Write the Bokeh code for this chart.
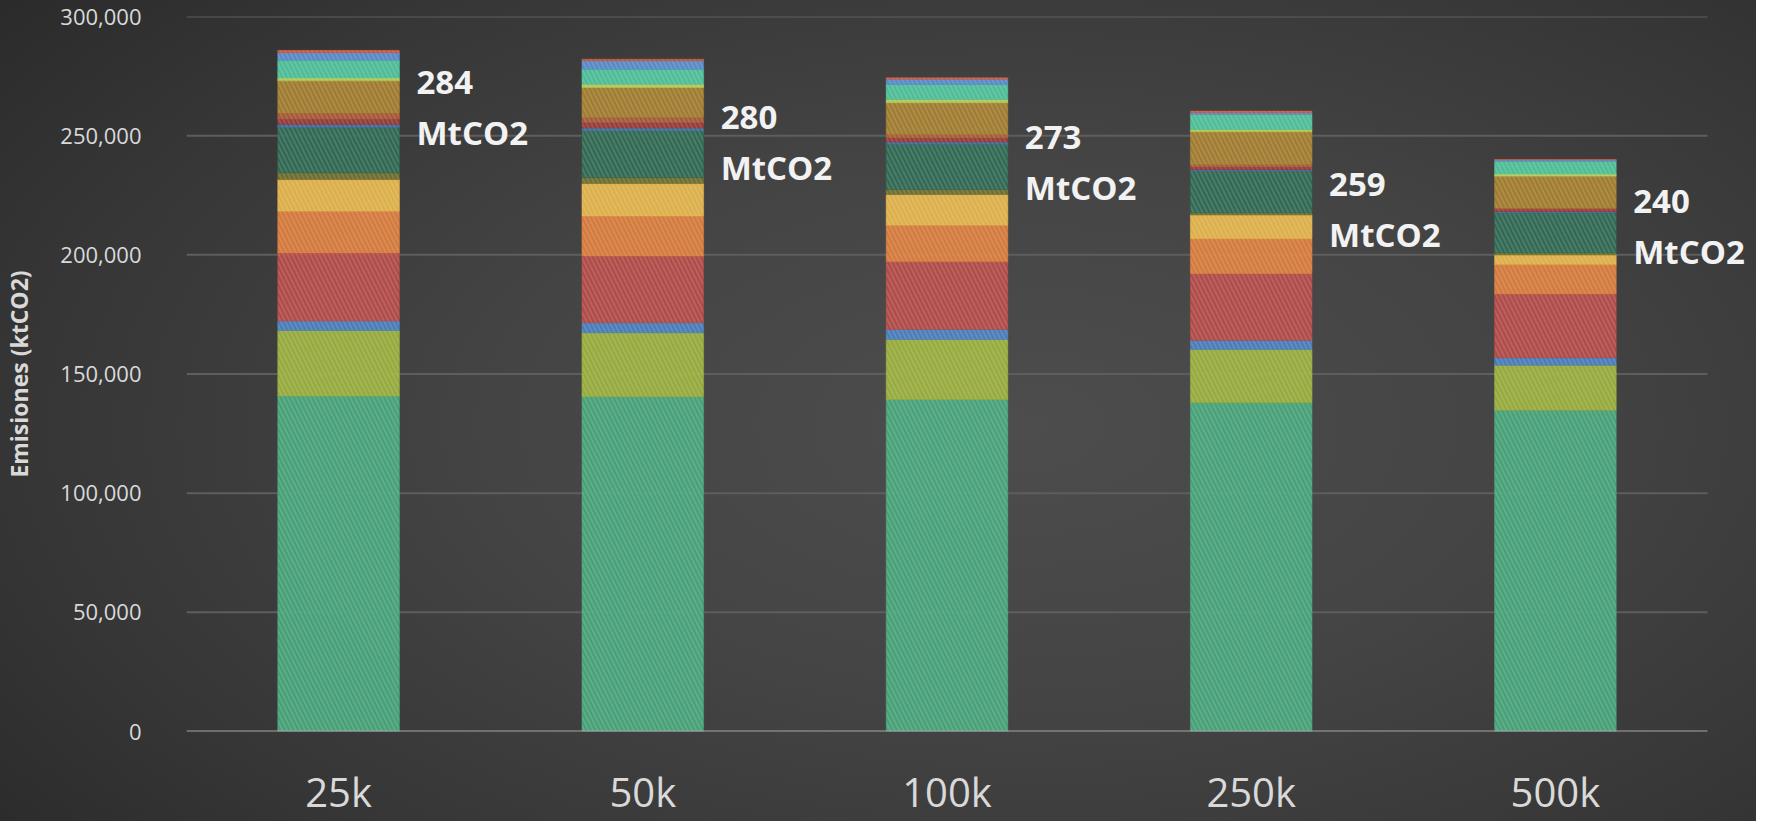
from bokeh.plotting import figure
from bokeh.models import (ColumnDataSource, NumeralTickFormatter,
                          FixedTicker, InlineStyleSheet)
from bokeh.core.properties import value
from bokeh.embed import file_html
from bokeh.resources import INLINE

# ---------------- data (ktCO2) ----------------
categories = ["25k", "50k", "100k", "250k", "500k"]

# stacked segments, bottom to top
seg_green_base   = [140800, 140500, 139300, 137900, 134800]
seg_olive        = [27500, 26800, 25200, 22400, 18900]
seg_blue_low     = [3900, 4200, 4200, 3800, 3100]
seg_red          = [28600, 28000, 28400, 28000, 26800]
seg_orange       = [17500, 16800, 15300, 14700, 12300]
seg_yellow       = [13300, 13600, 12900, 9900, 4000]
seg_dark_olive   = [2800, 2500, 2100, 900, 900]
seg_dark_green   = [18900, 19600, 18900, 17500, 16800]
seg_steel_blue   = [1400, 1200, 1000, 600, 500]
seg_dark_red     = [2300, 2200, 1700, 1200, 1000]
seg_rust         = [2500, 2200, 1500, 1000, 600]
seg_brown        = [13500, 12600, 13300, 13700, 13300]
seg_lime         = [1200, 1400, 1400, 1000, 900]
seg_mint         = [7400, 6300, 6300, 6300, 5400]
seg_blue_top     = [3200, 3500, 2200, 700, 500]
seg_red_top      = [1000, 700, 600, 700, 200]

segment_names = ["seg_green_base", "seg_olive", "seg_blue_low", "seg_red", "seg_orange",
                 "seg_yellow", "seg_dark_olive", "seg_dark_green", "seg_steel_blue",
                 "seg_dark_red", "seg_rust", "seg_brown", "seg_lime", "seg_mint",
                 "seg_blue_top", "seg_red_top"]
segment_values = [seg_green_base, seg_olive, seg_blue_low, seg_red, seg_orange,
                  seg_yellow, seg_dark_olive, seg_dark_green, seg_steel_blue,
                  seg_dark_red, seg_rust, seg_brown, seg_lime, seg_mint,
                  seg_blue_top, seg_red_top]

total_labels = ["284", "280", "273", "259", "240"]
label_anchor = [251400, 236700, 228300, 208600, 201500]  # baseline of "MtCO2" line

y_ticks = [0, 50000, 100000, 150000, 200000, 250000, 300000]

# ---------------- styles / layout ----------------
colors = ["#46a87c", "#9cb23c", "#4a80c2", "#b84b48", "#e07e3c",
          "#e9b84b", "#72702c", "#2f6b55", "#3f6f9c", "#9a3b3b",
          "#ad5a37", "#a8802e", "#b8d45a", "#4fc79d", "#5a8fd2", "#d65c40"]

BAR_W = 0.4
n_cat = len(categories)
grid_frame_px = 1521                 # width of the gridded area
unit_px = grid_frame_px / n_cat
frame_w = 1566
x_end = frame_w / unit_px

xpos = [i + 0.5 for i in range(n_cat)]

data = {"x": xpos}
for n, v in zip(segment_names, segment_values):
    data[n] = v
source = ColumnDataSource(data)

lab_src = ColumnDataSource(dict(x=[v + BAR_W / 2 for v in xpos], y=label_anchor,
                                num=total_labels,
                                unit=["MtCO2"] * n_cat))

p = figure(x_range=(0, x_end), y_range=(0, 300000),
           frame_width=frame_w, frame_height=715,
           min_border_left=181, min_border_right=4,
           min_border_top=16, min_border_bottom=75,
           output_backend="svg", toolbar_location=None)

p.stylesheets = [InlineStyleSheet(css=":host { background: radial-gradient(ellipse 75% 85% at 58% 52%, #4d4d4d 0%, #444444 40%, #363636 75%, #2a2a2a 100%); }")]
p.background_fill_alpha = 0
p.border_fill_alpha = 0
p.outline_line_color = None

# horizontal grid lines limited to the category area, and the base line
grid_y = [t for t in y_ticks if t > 0]
p.segment(x0=[0] * len(grid_y), x1=[n_cat] * len(grid_y), y0=grid_y, y1=grid_y,
          line_color="#5e5e5e", line_width=2)

p.vbar_stack(segment_names, x="x", width=BAR_W, source=source,
             fill_color=colors, fill_alpha=0.92,
             line_color=colors, line_alpha=0.5, line_width=1,
             hatch_pattern="\\", hatch_color="white", hatch_alpha=0.13,
             hatch_scale=9, hatch_weight=2)

p.segment(x0=[0], x1=[n_cat], y0=[0], y1=[0], line_color="#a6a6a6", line_width=2)

text_color = "#f2f2f2"
p.text(x="x", y="y", text="unit", source=lab_src,
       x_offset=17, text_align="left", text_baseline="alphabetic",
       text_font=value("Open Sans"), text_font_style="bold",
       text_font_size="33px", text_color=text_color)
p.text(x="x", y="y", text="num", source=lab_src,
       x_offset=17, y_offset=-50, text_align="left", text_baseline="alphabetic",
       text_font=value("Open Sans"), text_font_style="bold",
       text_font_size="33px", text_color=text_color)

# grid (built-in off)
p.xgrid.grid_line_color = None
p.ygrid.grid_line_color = None

# axes
p.yaxis.ticker = FixedTicker(ticks=y_ticks)
p.yaxis.formatter = NumeralTickFormatter(format="0,0")
p.yaxis.axis_line_color = None
p.yaxis.major_tick_line_color = None
p.yaxis.minor_tick_line_color = None
p.yaxis.major_label_text_font = "Open Sans"
p.yaxis.major_label_text_font_size = "22px"
p.yaxis.major_label_text_color = "#d9d9d9"
p.yaxis.major_label_standoff = 39
p.yaxis.axis_label = "Emisiones (ktCO2)"
p.yaxis.axis_label_text_font = "Open Sans"
p.yaxis.axis_label_text_font_size = "23px"
p.yaxis.axis_label_text_font_style = "bold"
p.yaxis.axis_label_text_color = "#d9d9d9"
p.yaxis.axis_label_standoff = 22

p.xaxis.ticker = FixedTicker(ticks=xpos)
p.xaxis.major_label_overrides = {x: c for x, c in zip(xpos, categories)}
p.xaxis.axis_line_color = None
p.xaxis.major_tick_line_color = None
p.xaxis.minor_tick_line_color = None
p.xaxis.major_label_text_font = "Open Sans"
p.xaxis.major_label_text_font_size = "40px"
p.xaxis.major_label_text_color = "#d9d9d9"
p.xaxis.major_label_standoff = 26

open("out.html", "w").write(file_html(p, INLINE))
